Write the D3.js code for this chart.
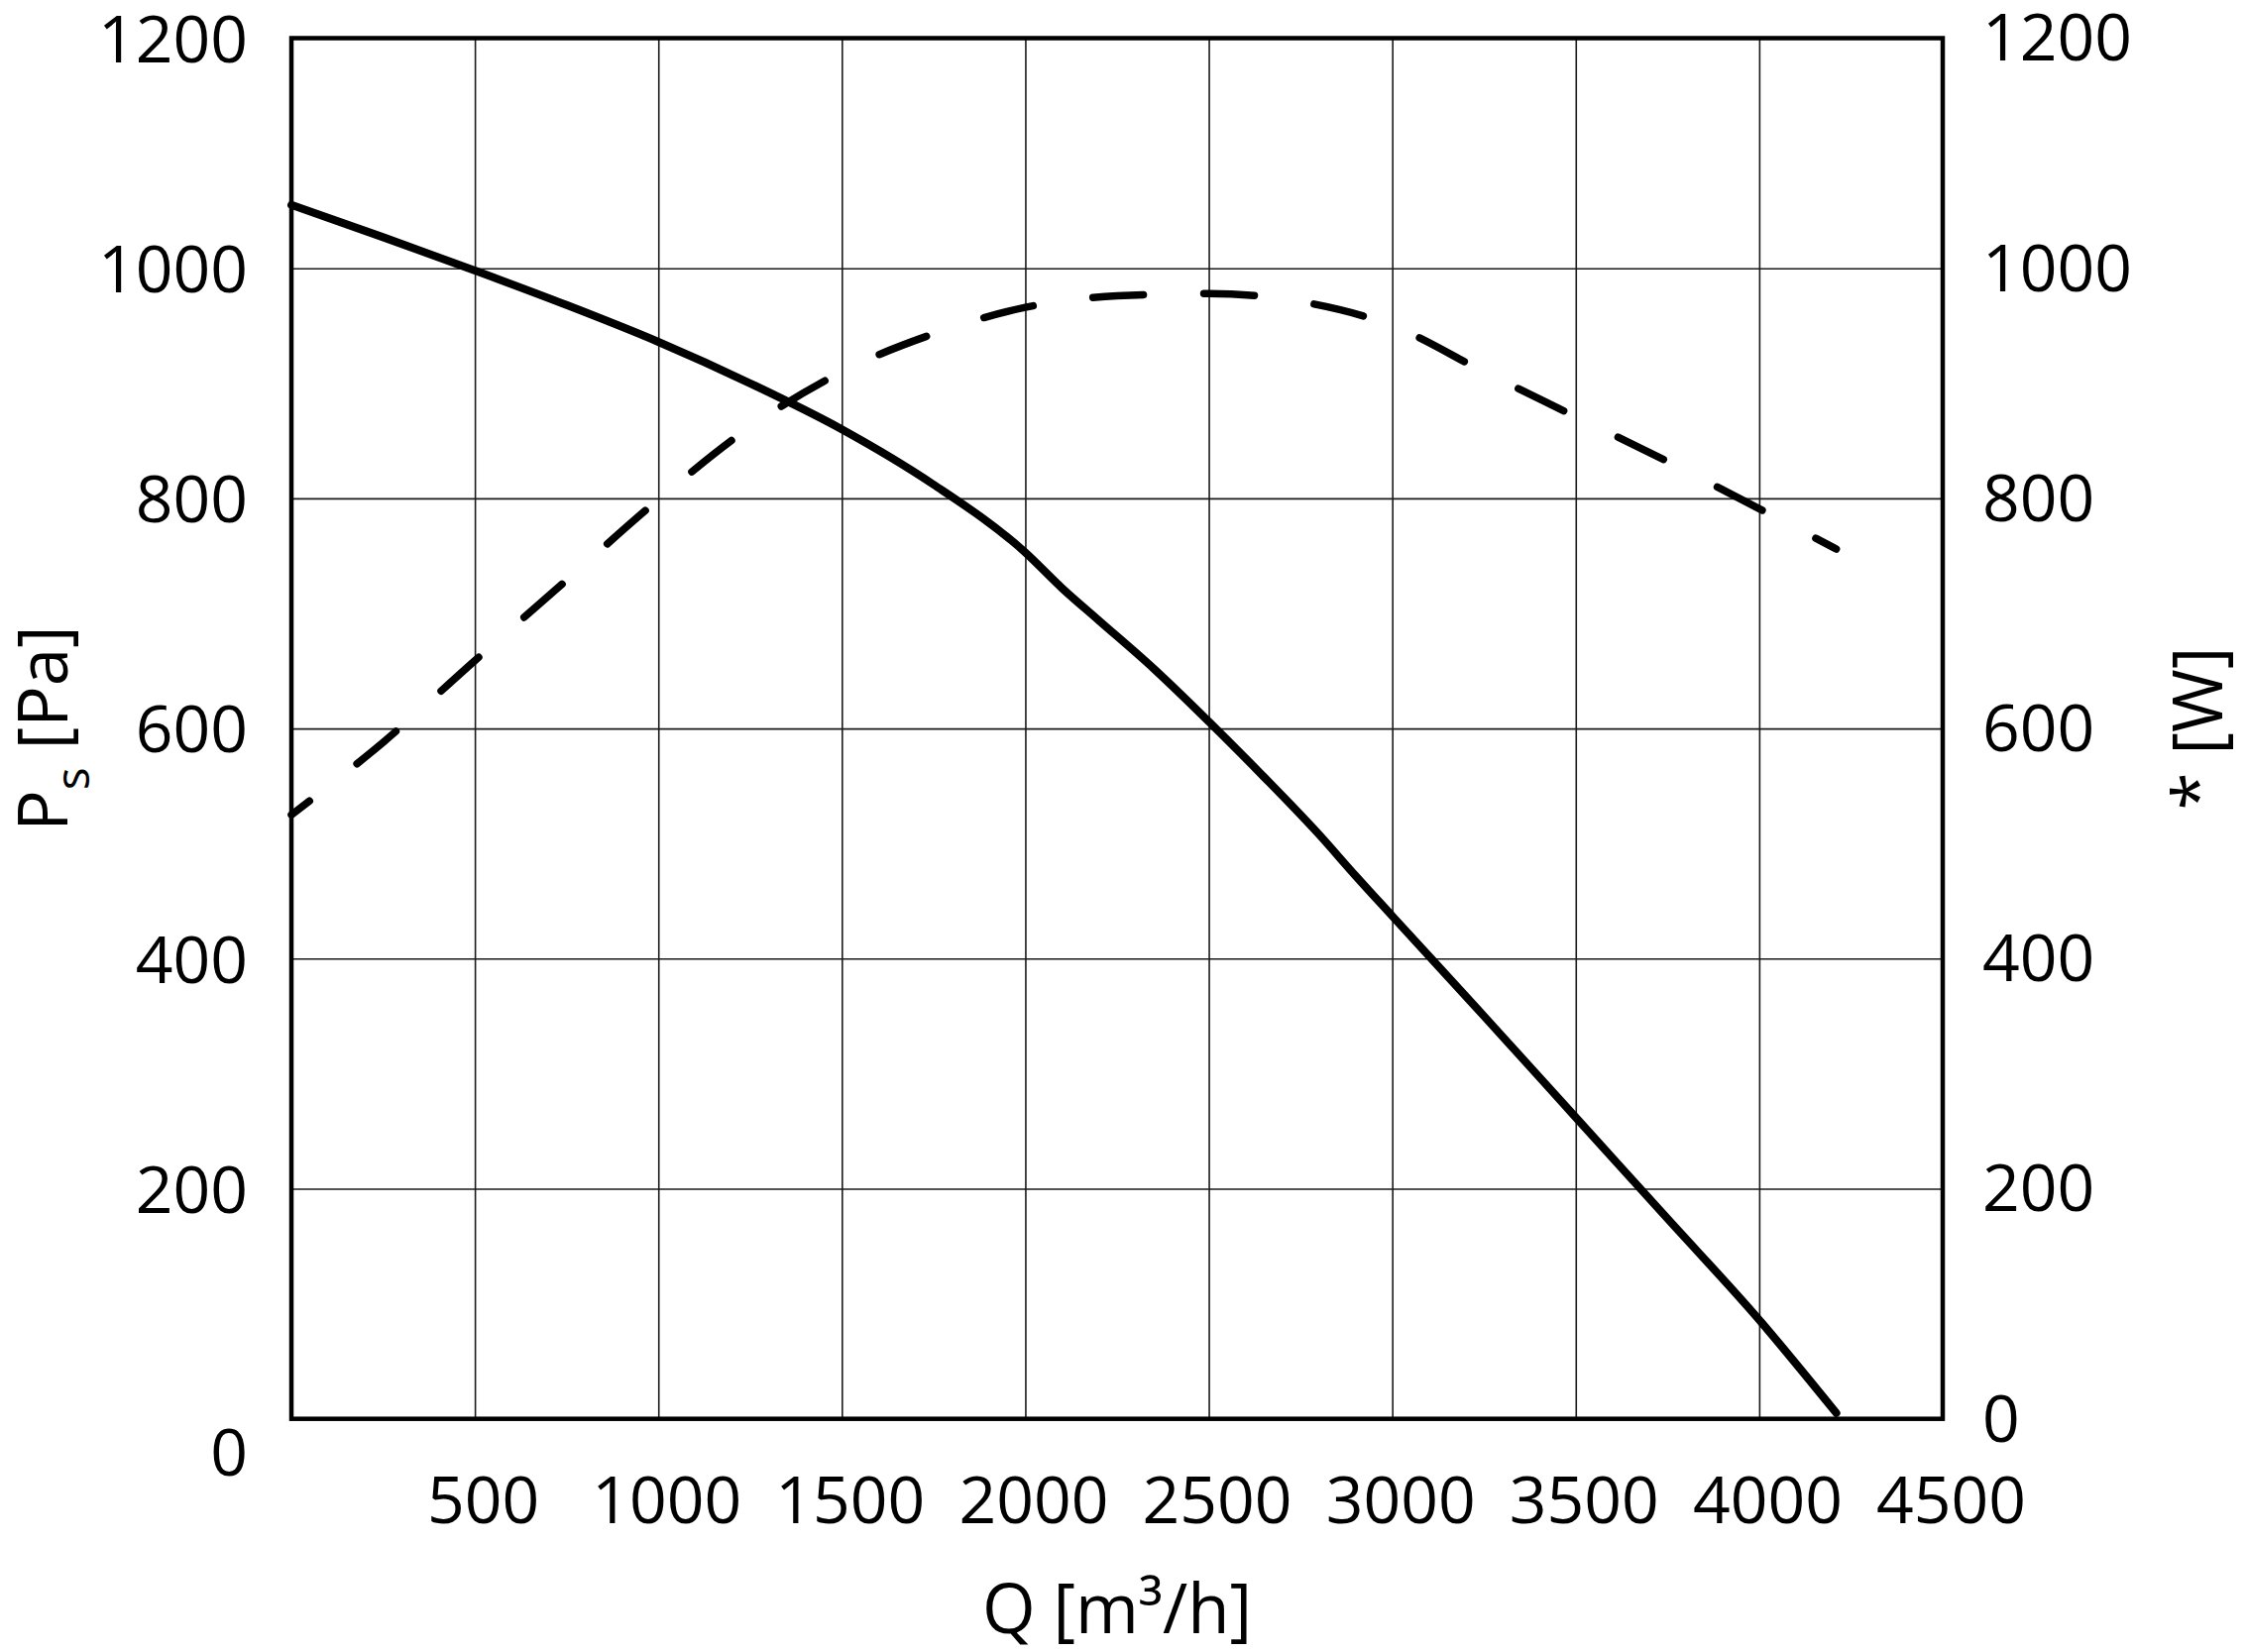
<!DOCTYPE html>
<html>
<head>
<meta charset="utf-8">
<script src="https://cdn.jsdelivr.net/npm/d3@7"></script>
<style>
  html, body { margin: 0; padding: 0; background: #ffffff; }
  svg { display: block; }
  text { font-family: "Open Sans", "Noto Sans", sans-serif; fill: #000; }
</style>
</head>
<body>
<svg id="chart" width="2267" height="1667"></svg>
<script>
// ---- data ----
const xTicks = [500, 1000, 1500, 2000, 2500, 3000, 3500, 4000, 4500];
const yTicks = [0, 200, 400, 600, 800, 1000, 1200];

// static pressure Ps [Pa] vs Q [m³/h]
const psQ   = [0, 250, 500, 750, 1000, 1250, 1500, 1750, 2000, 2100, 2200, 2350, 2500, 2650, 2800, 2900, 3000, 3250, 3500, 3750, 4000, 4210];
const psVal = [1055, 1027, 998, 968, 936, 900, 860, 812, 753, 722, 694, 652, 606, 558, 508, 472, 437, 350, 262, 174, 86, 5];

// power [W] vs Q [m³/h]
const pwQ   = [0, 250, 500, 750, 1000, 1250, 1500, 1750, 2000, 2250, 2500, 2750, 3000, 3250, 3500, 3750, 4000, 4210];
const pwVal = [525, 588, 659, 729, 799, 862, 910, 943, 966, 976, 978, 971, 950, 910, 871, 832, 791, 756];

const xLabel = "Q [m³/h]";
const yLabelMain = "P";
const yLabelSub = "s";
const yLabelUnit = " [Pa]";
const y2Label = "* [W]";

// ---- layout ----
const L = 294, R = 1960, T = 38.5, B = 1431.7;
const svg = d3.select("#chart");

const x = d3.scaleLinear().domain([0, 4500]).range([L, R]);
const y = d3.scaleLinear().domain([0, 1200]).range([B, T]);
const y2 = d3.scaleLinear().domain([0, 1200]).range([B, T]);

const fs = 66;

// bottom axis with vertical gridlines
const gx = svg.append("g")
  .attr("transform", `translate(0,${B})`)
  .call(d3.axisBottom(x).tickValues(xTicks).tickSize(-(B - T)).tickPadding(58).tickFormat(d3.format("d")));
gx.select(".domain").remove();
gx.selectAll(".tick line").attr("stroke", "#1a1a1a").attr("stroke-width", 1.6);
gx.selectAll(".tick text")
  .attr("font-size", fs).attr("font-family", "Open Sans")
  .attr("dx", 8).attr("fill", "#000");

// left axis with horizontal gridlines
const gy = svg.append("g")
  .attr("transform", `translate(${L},0)`)
  .call(d3.axisLeft(y).tickValues(yTicks).tickSize(-(R - L)).tickPadding(44).tickFormat(d3.format("d")));
gy.select(".domain").remove();
gy.selectAll(".tick line").attr("stroke", "#1a1a1a").attr("stroke-width", 1.6);
gy.selectAll(".tick text")
  .attr("font-size", fs).attr("font-family", "Open Sans")
  .attr("dy", d => d === 0 ? "0.86em" : "0.36em").attr("fill", "#000");

// right axis labels
const gy2 = svg.append("g")
  .attr("transform", `translate(${R},0)`)
  .call(d3.axisRight(y2).tickValues(yTicks).tickSize(0).tickPadding(40).tickFormat(d3.format("d")));
gy2.select(".domain").remove();
gy2.selectAll(".tick text")
  .attr("font-size", fs).attr("font-family", "Open Sans")
  .attr("dy", "0.34em").attr("fill", "#000");

// frame
svg.append("rect")
  .attr("x", L).attr("y", T).attr("width", R - L).attr("height", B - T)
  .attr("fill", "none").attr("stroke", "#000").attr("stroke-width", 4.5);

// curves
const lineP = d3.line().x((d, i) => x(psQ[i])).y(d => y(d)).curve(d3.curveMonotoneX);
const lineW = d3.line().x((d, i) => x(pwQ[i])).y(d => y2(d)).curve(d3.curveMonotoneX);

svg.append("path")
  .attr("d", lineW(pwVal))
  .attr("fill", "none").attr("stroke", "#000").attr("stroke-width", 7.5)
  .attr("stroke-linecap", "round")
  .attr("stroke-dasharray", "51,61")
  .attr("stroke-dashoffset", 28);

svg.append("path")
  .attr("d", lineP(psVal))
  .attr("fill", "none").attr("stroke", "#000").attr("stroke-width", 8)
  .attr("stroke-linecap", "round").attr("stroke-linejoin", "round");

// axis titles
svg.append("text")
  .attr("x", (L + R) / 2).attr("y", 1648)
  .attr("text-anchor", "middle").attr("font-size", 69)
  .text(xLabel);

const yt = svg.append("text")
  .attr("transform", `translate(68,735) rotate(-90)`)
  .attr("text-anchor", "middle").attr("font-size", 69);
yt.append("tspan").text(yLabelMain);
yt.append("tspan").attr("font-size", 48).attr("dy", 22).text(yLabelSub);
yt.append("tspan").attr("dy", -22).text(yLabelUnit);

svg.append("text")
  .attr("transform", `translate(2242,735) rotate(-90)`)
  .attr("text-anchor", "middle").attr("font-size", 69)
  .text(y2Label);
</script>
</body>
</html>
